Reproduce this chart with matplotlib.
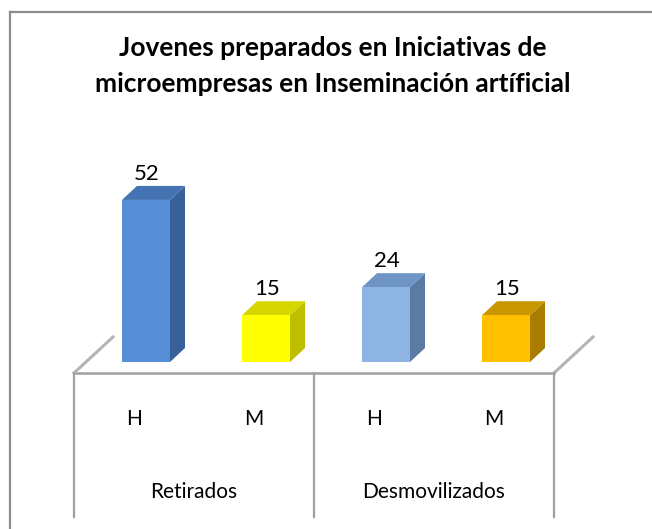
import numpy as np
import matplotlib.pyplot as plt
from matplotlib.patches import Polygon
from matplotlib.lines import Line2D
from matplotlib.transforms import ScaledTranslation

# data
groups = ['Retirados', 'Desmovilizados']
sexes = ['H', 'M', 'H', 'M']
values = [52, 15, 24, 15]
title_lines = ['Jovenes preparados en Iniciativas de',
               'microempresas en Inseminación artíficial']

# colours of the front, side and top faces of each bar
front_colors = ['#558ed5', '#ffff00', '#8eb4e3', '#ffc000']
side_colors = ['#38619c', '#bfbf00', '#5b7ba6', '#a87d00']
top_colors = ['#4473b4', '#d6d600', '#6f95c6', '#c89600']

plt.rcParams['font.family'] = ['Lato', 'DejaVu Sans']

W, H = 652, 529
fig = plt.figure(figsize=(W / 100, H / 100), dpi=100)

# outer frame (only the top and left edges are visible in the crop)
border = '#8c8c8c'
fig.add_artist(Line2D([10 / W, 1], [1 - 12 / H] * 2, color=border, lw=1.6))
fig.add_artist(Line2D([10 / W] * 2, [1 - 12 / H, 0], color=border, lw=1.6))

# title
for i, line in enumerate(title_lines):
    fig.text(333 / W, 1 - (48 + 36 * i) / H, line, ha='center', va='center',
             fontsize=19, fontweight='bold', color='black')

# axes for the plot area: value 0 sits on the front edge of the floor
ax = fig.add_axes([74 / W, 1 - 373 / H, 480 / W, 187 / H])
ax.set_xlim(0, 4)
ax.set_ylim(0, 60)
ax.axis('off')

# data units per pixel, used for the fake depth
ux = 4 / 480
uy = 60 / 187

floor_dx, floor_dy = 39, 36   # depth of the floor
bar_dx, bar_dy = 12, 11       # bars stand in the middle of the floor
deep_dx, deep_dy = 15, 14     # depth of a bar

line_col = '#a0a0a0'
# floor: front edge and the two side edges
ax.plot([0, 4], [0, 0], color=line_col, lw=1.8, clip_on=False)
ax.plot([0, floor_dx * ux], [0, floor_dy * uy], color='#b4b4b4', lw=2.2,
        clip_on=False)
ax.plot([4, 4 + floor_dx * ux], [0, floor_dy * uy], color='#b4b4b4', lw=2.2,
        clip_on=False)

# category axis box under the floor
box_depth = 144 * uy
for xv in [0, 2, 4]:
    ax.plot([xv, xv], [0, -box_depth], color=line_col, lw=1.6, clip_on=False)

x = np.arange(len(values)) + 0.5
width = 0.4

bars = ax.bar(x, values, width, color=front_colors, linewidth=0)
shift = ScaledTranslation(bar_dx / 100, bar_dy / 100, fig.dpi_scale_trans)
for rect in bars:
    rect.set_transform(ax.transData + shift)
    rect.set_zorder(3)

for xc, v, sc, tc in zip(x, values, side_colors, top_colors):
    xl = xc - width / 2 + bar_dx * ux
    xr = xc + width / 2 + bar_dx * ux
    y0 = bar_dy * uy
    y1 = v + bar_dy * uy
    ddx, ddy = deep_dx * ux, deep_dy * uy
    side = Polygon([(xr, y0), (xr, y1), (xr + ddx, y1 + ddy), (xr + ddx, y0 + ddy)],
                   closed=True, facecolor=sc, edgecolor='none', zorder=2,
                   clip_on=False)
    top = Polygon([(xl, y1), (xr, y1), (xr + ddx, y1 + ddy), (xl + ddx, y1 + ddy)],
                  closed=True, facecolor=tc, edgecolor='none', zorder=2,
                  clip_on=False)
    ax.add_patch(side)
    ax.add_patch(top)
    ax.annotate(str(v), (xc, v), xytext=(bar_dx + 1, bar_dy + 26),
                textcoords='offset pixels', ha='center', va='center',
                fontsize=16, color='black', annotation_clip=False)

# sex labels and group labels
for xc, s in zip(x, sexes):
    ax.annotate(s, (xc, 0), xytext=(0, -46), textcoords='offset pixels',
                ha='center', va='center', fontsize=15, annotation_clip=False)
for i, g in enumerate(groups):
    ax.annotate(g, (2 * i + 1, 0), xytext=(0, -119), textcoords='offset pixels',
                ha='center', va='center', fontsize=15, annotation_clip=False)

fig.savefig('out.png', dpi=100)
